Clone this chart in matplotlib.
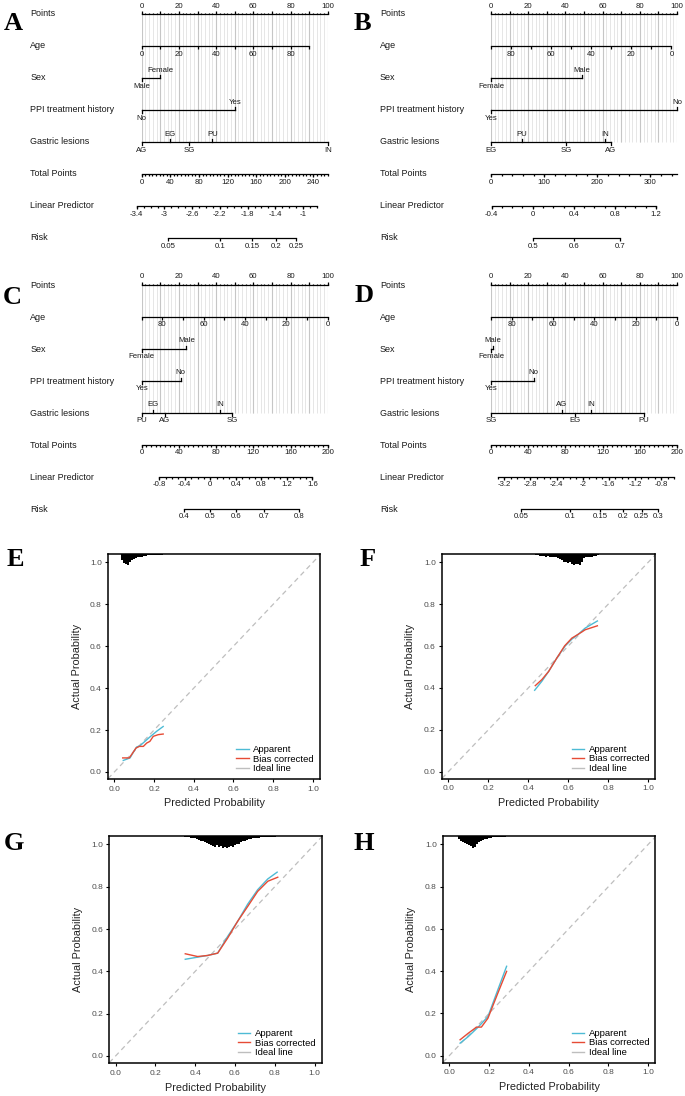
import numpy as np
import matplotlib.pyplot as plt

plt.rcParams['font.family'] = ['Liberation Sans', 'DejaVu Sans']

W, H = 685, 1096
ROW = 32.0     # px between nomogram rows
NW = 186.0     # px width of the Points axis

row_names = ['Points', 'Age', 'Sex', 'PPI treatment history', 'Gastric lesions',
             'Total Points', 'Linear Predictor', 'Risk']

# ---- nomogram A ----
A_age, A_age_pts = [0, 90], [0, 90]
A_sex, A_sex_pts = ['Male', 'Female'], [0, 10]
A_ppi, A_ppi_pts = ['No', 'Yes'], [0, 50]
A_gl, A_gl_pts = ['AG', 'EG', 'SG', 'PU', 'IN'], [0, 15, 25.5, 38, 100]
A_total = (260, 5, 40)
A_lp = (-3.4, -0.8)
A_lp_labels = [-3.4, -3.0, -2.6, -2.2, -1.8, -1.4, -1.0]
A_lp_coef = (-3.328, 0.01032)
A_risk = [0.05, 0.1, 0.15, 0.2, 0.25]

# ---- nomogram B ----
B_age, B_age_pts = [90, 0], [0, 97]
B_sex, B_sex_pts = ['Female', 'Male'], [0, 49]
B_ppi, B_ppi_pts = ['Yes', 'No'], [0, 100]
B_gl, B_gl_pts = ['EG', 'PU', 'SG', 'IN', 'AG'], [0, 16.5, 40.5, 61.5, 64.5]
B_total = (350, 20, 100)
B_lp = (-0.4, 1.2)
B_lp_labels = [-0.4, 0.0, 0.4, 0.8, 1.2]
B_lp_coef = (-0.407, 0.00518)
B_risk = [0.5, 0.6, 0.7]

# ---- nomogram C ----
C_age, C_age_pts = [90, 0], [0, 100]
C_sex, C_sex_pts = ['Female', 'Male'], [0, 24]
C_ppi, C_ppi_pts = ['Yes', 'No'], [0, 21]
C_gl, C_gl_pts = ['PU', 'EG', 'AG', 'IN', 'SG'], [0, 6, 12.5, 42, 48.5]
C_total = (200, 5, 40)
C_lp = (-0.8, 1.6)
C_lp_labels = [-0.8, -0.4, 0.0, 0.4, 0.8, 1.2, 1.6]
C_lp_coef = (-1.076, 0.01459)
C_risk = [0.4, 0.5, 0.6, 0.7, 0.8]

# ---- nomogram D ----
D_age, D_age_pts = [90, 0], [0, 100]
D_sex, D_sex_pts = ['Female', 'Male'], [0, 1]
D_ppi, D_ppi_pts = ['Yes', 'No'], [0, 23]
D_gl, D_gl_pts = ['SG', 'AG', 'EG', 'IN', 'PU'], [0, 38, 45, 54, 82]
D_total = (200, 5, 40)
D_lp = (-3.3, -0.6)
D_lp_labels = [-3.2, -2.8, -2.4, -2.0, -1.6, -1.2, -0.8]
D_lp_coef = (-3.404, 0.01424)
D_risk = [0.05, 0.1, 0.15, 0.2, 0.25, 0.3]

# ---- calibration curves ----
E_app_x = [0.045, 0.079, 0.095, 0.112, 0.129, 0.154, 0.179, 0.213, 0.246]
E_app_y = [0.055, 0.067, 0.093, 0.119, 0.125, 0.146, 0.167, 0.194, 0.217]
E_bc_x = [0.042, 0.075, 0.092, 0.109, 0.126, 0.146, 0.163, 0.179, 0.196, 0.221, 0.246]
E_bc_y = [0.067, 0.067, 0.090, 0.114, 0.122, 0.122, 0.138, 0.146, 0.170, 0.178, 0.181]
E_spk_x0 = 0.04
E_spk_h = [0.030, 0.045, 0.050, 0.053, 0.040, 0.028, 0.022, 0.018, 0.016, 0.014,
           0.012, 0.010, 0.008, 0.007, 0.006, 0.005, 0.004, 0.004, 0.003, 0.003,
           0.003, 0.002, 0.002, 0.002, 0.002, 0.002, 0.001]

F_app_x = [0.432, 0.468, 0.502, 0.543, 0.585, 0.618, 0.651, 0.685, 0.746]
F_app_y = [0.389, 0.432, 0.479, 0.543, 0.601, 0.633, 0.657, 0.686, 0.720]
F_bc_x = [0.435, 0.468, 0.502, 0.543, 0.582, 0.618, 0.651, 0.685, 0.746]
F_bc_y = [0.411, 0.440, 0.479, 0.543, 0.601, 0.638, 0.657, 0.678, 0.697]
F_spk_x0 = 0.44
F_spk_h = [0.004, 0.006, 0.008, 0.010, 0.010, 0.012, 0.010, 0.012, 0.014, 0.012,
           0.016, 0.020, 0.026, 0.030, 0.040, 0.036, 0.044, 0.040, 0.048, 0.052,
           0.046, 0.050, 0.053, 0.040, 0.020, 0.016, 0.014, 0.012, 0.012, 0.010,
           0.008, 0.004]

G_app_x = [0.350, 0.412, 0.462, 0.513, 0.563, 0.613, 0.664, 0.714, 0.765, 0.812]
G_app_y = [0.457, 0.467, 0.475, 0.486, 0.565, 0.636, 0.718, 0.786, 0.837, 0.869]
G_bc_x = [0.350, 0.412, 0.462, 0.513, 0.563, 0.613, 0.664, 0.714, 0.765, 0.815]
G_bc_y = [0.483, 0.470, 0.475, 0.486, 0.557, 0.636, 0.707, 0.778, 0.826, 0.845]
G_spk_x0 = 0.35
G_spk_h = [0.004, 0.006, 0.006, 0.008, 0.008, 0.010, 0.014, 0.018, 0.022, 0.026,
           0.030, 0.034, 0.038, 0.042, 0.046, 0.050, 0.044, 0.054, 0.048, 0.056,
           0.050, 0.058, 0.052, 0.048, 0.052, 0.044, 0.040, 0.036, 0.030, 0.026,
           0.022, 0.018, 0.014, 0.012, 0.010, 0.010, 0.008, 0.008, 0.006, 0.006,
           0.006, 0.005, 0.004, 0.004, 0.003, 0.003, 0.002]

H_app_x = [0.054, 0.095, 0.145, 0.194, 0.244, 0.288]
H_app_y = [0.059, 0.090, 0.135, 0.185, 0.312, 0.423]
H_bc_x = [0.054, 0.095, 0.137, 0.161, 0.194, 0.244, 0.288]
H_bc_y = [0.075, 0.106, 0.135, 0.135, 0.177, 0.296, 0.399]
H_spk_x0 = 0.05
H_spk_h = [0.015, 0.022, 0.028, 0.032, 0.036, 0.042, 0.048, 0.055, 0.050, 0.040,
           0.030, 0.024, 0.020, 0.016, 0.012, 0.010, 0.008, 0.007, 0.006, 0.005,
           0.004, 0.004, 0.003, 0.003, 0.002, 0.002]

APP_COL = '#4DBBD5'
BC_COL = '#E64B35'
IDEAL_COL = '#BEBEBE'

fig = plt.figure(figsize=(W / 100, H / 100), dpi=100)


def fmt(v):
    return format(round(float(v), 2) + 0.0, 'g')


def lin(v, v0, v1, p0, p1):
    return p0 + (np.asarray(v, dtype=float) - v0) * (p1 - p0) / (v1 - v0)


def nomogram(left, top, age, age_pts, sex, sex_pts, ppi, ppi_pts, gl, gl_pts,
             total, lp_lim, lp_labels, lp_coef, risk):
    ax = fig.add_axes([left / W, 1 - (top + 7 * ROW) / H, NW / W, 7 * ROW / H])
    ax.set_xlim(0, 100)
    ax.set_ylim(7, 0)
    ax.axis('off')
    kw = dict(color='black', lw=0.9, clip_on=False)
    tk, off, fs = 0.1, 0.25, 5.6
    tkw = dict(fontsize=fs, ha='center', va='center', color='#1a1a1a')

    # vertical guide lines
    g = np.arange(0, 101, 2)
    ax.vlines(g, 0, 4, color='#e6e6e6', lw=0.7, zorder=0)
    ax.vlines(g[g % 10 == 0], 0, 4, color='#c6c6c6', lw=0.8, zorder=0)

    for i, name in enumerate(row_names):
        ax.text(-59.8, i, name, fontsize=6.5, ha='left', va='center', color='#1a1a1a')

    # Points
    ax.plot([0, 100], [0, 0], **kw)
    ax.vlines(np.arange(0, 101, 2), 0, -tk * 0.45, **kw)
    ax.vlines(np.arange(0, 101, 10), 0, -tk, **kw)
    for v in range(0, 101, 20):
        ax.text(v, -off, str(v), **tkw)

    # Age
    a = np.arange(min(age), max(age) + 1, 10)
    ax.plot(lin(age, age[0], age[1], age_pts[0], age_pts[1]), [1, 1], **kw)
    ax.vlines(lin(a, age[0], age[1], age_pts[0], age_pts[1]), 1, 1 + tk, **kw)
    for v in a[a % 20 == 0]:
        ax.text(lin(v, age[0], age[1], age_pts[0], age_pts[1]), 1 + off, str(v), **tkw)

    # categorical rows
    for y, labs, pts in [(2, sex, sex_pts), (3, ppi, ppi_pts), (4, gl, gl_pts)]:
        ax.plot([min(pts), max(pts)], [y, y], **kw)
        for k, i in enumerate(np.argsort(pts, kind='stable')):
            d = 1 if k % 2 == 0 else -1
            ax.plot([pts[i], pts[i]], [y, y + d * tk], **kw)
            ax.text(pts[i], y + d * off, labs[i], **tkw)

    # Total points
    tmax, tminor, tmajor = total
    ax.plot([0, 100], [5, 5], **kw)
    t = np.arange(0, tmax + 0.1, tminor)
    ax.vlines(t * 100 / tmax, 5, 5 + tk * 0.6, **kw)
    tm = np.arange(0, tmax + 0.1, tmajor)
    ax.vlines(tm * 100 / tmax, 5, 5 + tk, **kw)
    for v in tm:
        ax.text(v * 100 / tmax, 5 + off, fmt(v), **tkw)

    # Linear predictor
    lp0, slope = lp_coef

    def lpx(lp):
        return (np.asarray(lp, dtype=float) - lp0) / slope * 100 / tmax

    ax.plot(lpx(lp_lim), [6, 6], **kw)
    lt = np.round(np.arange(lp_lim[0], lp_lim[1] + 1e-6, 0.1), 2)
    ax.vlines(lpx(lt), 6, 6 + tk * 0.6, **kw)
    ax.vlines(lpx(lp_labels), 6, 6 + tk, **kw)
    for v in lp_labels:
        ax.text(lpx(v), 6 + off, fmt(v), **tkw)

    # Risk
    r = np.asarray(risk)
    rx = lpx(np.log(r / (1 - r)))
    ax.plot([rx[0], rx[-1]], [7, 7], **kw)
    ax.vlines(rx, 7, 7 + tk, **kw)
    for x, v in zip(rx, risk):
        ax.text(x, 7 + off, fmt(v), **tkw)


def calib(l, r, t, b, app_x, app_y, bc_x, bc_y, spk_x0, spk_h):
    ax = fig.add_axes([l / W, 1 - b / H, (r - l) / W, (b - t) / H])
    ax.set_xlim(-0.032, 1.036)
    ax.set_ylim(-0.035, 1.04)
    top = 1.04
    h = np.asarray(spk_h)
    sx = np.round(spk_x0 + 0.01 * np.arange(len(h)), 3)
    ax.bar(sx, h, bottom=top - h, width=0.0105, color='black', lw=0)
    ax.axline((0, 0), (1, 1), color=IDEAL_COL, lw=0.9, ls=(0, (4, 3)))
    ax.plot(app_x, app_y, color=APP_COL, lw=1.0)
    ax.plot(bc_x, bc_y, color=BC_COL, lw=1.0)
    hs = [plt.Line2D([], [], color=APP_COL, lw=1.0),
          plt.Line2D([], [], color=BC_COL, lw=1.0),
          plt.Line2D([], [], color=IDEAL_COL, lw=1.0)]
    ax.legend(hs, ['Apparent', 'Bias corrected', 'Ideal line'], loc='lower right',
              frameon=False, fontsize=6.8, handlelength=1.3, handletextpad=0.5,
              labelspacing=0.05, borderaxespad=0.25)
    ticks = [0.0, 0.2, 0.4, 0.6, 0.8, 1.0]
    ax.set_xticks(ticks, [f'{v:.1f}' for v in ticks])
    ax.set_yticks(ticks, [f'{v:.1f}' for v in ticks])
    ax.tick_params(length=2.5, width=0.8, labelsize=6, labelcolor='#4d4d4d', pad=2)
    for s in ax.spines.values():
        s.set_linewidth(1.1)
    ax.set_xlabel('Predicted Probability', fontsize=7.8, color='#222222')
    ax.set_ylabel('Actual Probability', fontsize=7.8, color='#222222')
    ax.xaxis.set_label_coords(0.5, -0.085)
    ax.yaxis.set_label_coords(-0.125, 0.5)


nomogram(141.7, 14, A_age, A_age_pts, A_sex, A_sex_pts, A_ppi, A_ppi_pts,
         A_gl, A_gl_pts, A_total, A_lp, A_lp_labels, A_lp_coef, A_risk)
nomogram(491, 14, B_age, B_age_pts, B_sex, B_sex_pts, B_ppi, B_ppi_pts,
         B_gl, B_gl_pts, B_total, B_lp, B_lp_labels, B_lp_coef, B_risk)
nomogram(141.7, 285, C_age, C_age_pts, C_sex, C_sex_pts, C_ppi, C_ppi_pts,
         C_gl, C_gl_pts, C_total, C_lp, C_lp_labels, C_lp_coef, C_risk)
nomogram(491, 285, D_age, D_age_pts, D_sex, D_sex_pts, D_ppi, D_ppi_pts,
         D_gl, D_gl_pts, D_total, D_lp, D_lp_labels, D_lp_coef, D_risk)

calib(108, 320, 554, 779.3, E_app_x, E_app_y, E_bc_x, E_bc_y, E_spk_x0, E_spk_h)
calib(442, 655.3, 554, 779, F_app_x, F_app_y, F_bc_x, F_bc_y, F_spk_x0, F_spk_h)
calib(109.3, 321.7, 836, 1063.3, G_app_x, G_app_y, G_bc_x, G_bc_y, G_spk_x0, G_spk_h)
calib(443, 655.3, 836, 1063, H_app_x, H_app_y, H_bc_x, H_bc_y, H_spk_x0, H_spk_h)

letters = ['A', 'B', 'C', 'D', 'E', 'F', 'G', 'H']
letter_xy = [(13, 23), (362, 23), (12, 297), (364, 296),
             (15, 560), (368, 560), (14, 844), (364, 844)]
for s, (x, y) in zip(letters, letter_xy):
    fig.text(x / W, 1 - y / H, s, fontsize=19, fontweight='bold',
             family='Liberation Serif', ha='center', va='center')

fig.savefig('out.png', dpi=100)
